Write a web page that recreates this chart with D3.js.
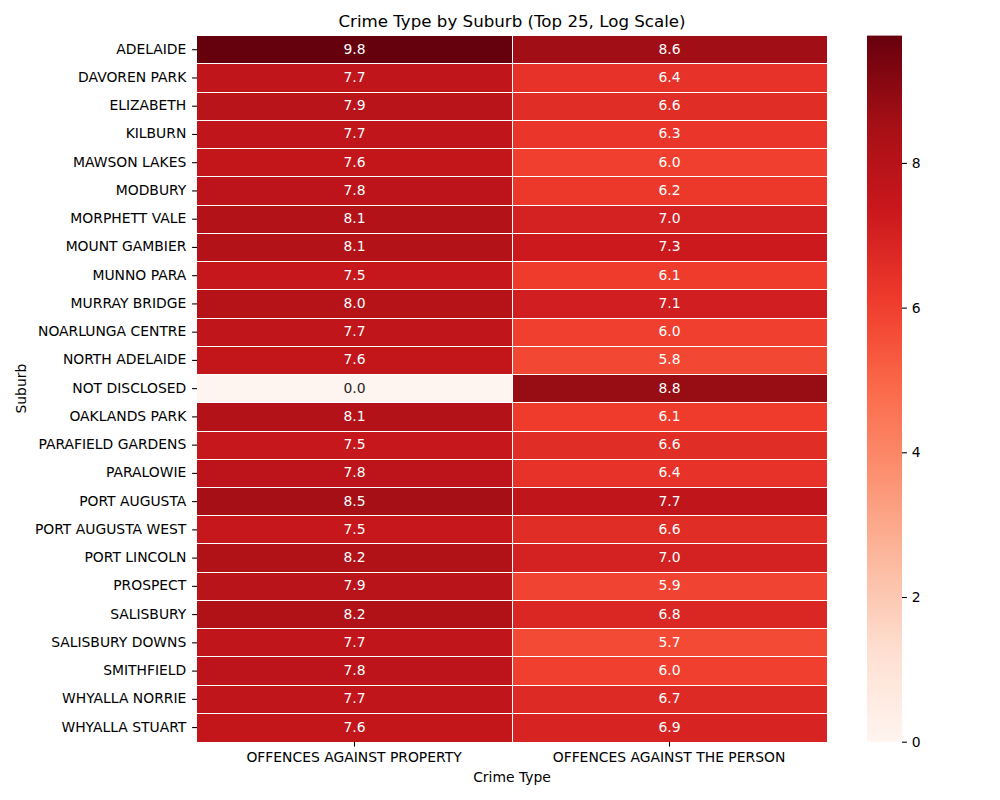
<!DOCTYPE html>
<html>
<head>
<meta charset="utf-8">
<script src="https://cdn.jsdelivr.net/npm/d3@7"></script>
<style>
  html, body { margin: 0; padding: 0; background: #fff; }
  text { font-family: "DejaVu Sans", sans-serif; fill: #000; }
</style>
</head>
<body>
<div id="graph"></div>
<script>
const suburbs = ["ADELAIDE", "DAVOREN PARK", "ELIZABETH", "KILBURN", "MAWSON LAKES", "MODBURY",
  "MORPHETT VALE", "MOUNT GAMBIER", "MUNNO PARA", "MURRAY BRIDGE", "NOARLUNGA CENTRE",
  "NORTH ADELAIDE", "NOT DISCLOSED", "OAKLANDS PARK", "PARAFIELD GARDENS", "PARALOWIE",
  "PORT AUGUSTA", "PORT AUGUSTA WEST", "PORT LINCOLN", "PROSPECT", "SALISBURY",
  "SALISBURY DOWNS", "SMITHFIELD", "WHYALLA NORRIE", "WHYALLA STUART"]
const crimeTypes = ["OFFENCES AGAINST PROPERTY", "OFFENCES AGAINST THE PERSON"]

// log scale values
const propertyValues = [9.8, 7.7, 7.9, 7.7, 7.6, 7.8, 8.1, 8.1, 7.5, 8.0, 7.7, 7.6, 0.0,
  8.1, 7.5, 7.8, 8.5, 7.5, 8.2, 7.9, 8.2, 7.7, 7.8, 7.7, 7.6]
const personValues = [8.6, 6.4, 6.6, 6.3, 6.0, 6.2, 7.0, 7.3, 6.1, 7.1, 6.0, 5.8, 8.8,
  6.1, 6.6, 6.4, 7.7, 6.6, 7.0, 5.9, 6.8, 5.7, 6.0, 6.7, 6.9]
const colorbarTicks = [0, 2, 4, 6, 8]
const maxValue = 9.76

const width = 1000, height = 800
const plot = { left: 197, right: 827, top: 35.6, bottom: 741.7 }
const bar = { left: 867, right: 902 }

const svg = d3.select("#graph").append("svg")
  .attr("width", width)
  .attr("height", height)
  .style("display", "block")

const x = d3.scaleBand().domain(crimeTypes).range([plot.left, plot.right])
const y = d3.scaleBand().domain(suburbs).range([plot.top, plot.bottom])

// same anchors as matplotlib's Reds
const reds = d3.schemeReds[9]
const colorScale = d3.scaleLinear()
  .domain(reds.map((c, i) => maxValue * i / 8))
  .range(reds)
  .interpolate(d3.interpolateRgb)

function textColor(v) {
  const c = d3.rgb(colorScale(v))
  const lin = [c.r, c.g, c.b].map(u => {
    u = u / 255
    return u <= 0.03928 ? u / 12.92 : Math.pow((u + 0.055) / 1.055, 2.4)
  })
  const lum = 0.2126 * lin[0] + 0.7152 * lin[1] + 0.0722 * lin[2]
  return lum > 0.408 ? "#262626" : "#fff"
}

let cells = []
suburbs.forEach((s, i) => {
  cells.push({ suburb: s, crime: crimeTypes[0], value: propertyValues[i] })
  cells.push({ suburb: s, crime: crimeTypes[1], value: personValues[i] })
})

svg.append("g")
  .selectAll("rect")
  .data(cells)
  .join("rect")
  .attr("x", d => x(d.crime))
  .attr("y", d => y(d.suburb))
  .attr("width", x.bandwidth())
  .attr("height", y.bandwidth())
  .attr("fill", d => colorScale(d.value))
  .attr("shape-rendering", "crispEdges")

// white separators only between cells, the outer edge stays clean
svg.append("g")
  .selectAll("line.row")
  .data(suburbs.slice(1))
  .join("line")
  .attr("class", "row")
  .attr("x1", plot.left)
  .attr("x2", plot.right)
  .attr("y1", d => y(d))
  .attr("y2", d => y(d))
  .attr("stroke", "#fff")
  .attr("shape-rendering", "crispEdges")

svg.append("g")
  .selectAll("line.col")
  .data(crimeTypes.slice(1))
  .join("line")
  .attr("class", "col")
  .attr("x1", d => x(d))
  .attr("x2", d => x(d))
  .attr("y1", plot.top)
  .attr("y2", plot.bottom)
  .attr("stroke", "#fff")
  .attr("shape-rendering", "crispEdges")

svg.append("g")
  .selectAll("text")
  .data(cells)
  .join("text")
  .attr("x", d => x(d.crime) + x.bandwidth() / 2)
  .attr("y", d => y(d.suburb) + y.bandwidth() / 2 - 1)
  .attr("dy", "0.36em")
  .attr("text-anchor", "middle")
  .style("font-size", "13.9px")
  .style("fill", d => textColor(d.value))
  .text(d => d.value.toFixed(1))

function styleAxis(g) {
  g.select(".domain").remove()
  g.selectAll(".tick line").attr("stroke", "#000").attr("stroke-width", 1.1)
  g.selectAll(".tick text").style("font-size", "13.9px").style("fill", "#000")
}

svg.append("g")
  .attr("transform", `translate(${plot.left},0)`)
  .call(d3.axisLeft(y).tickSize(4.9).tickPadding(5.8))
  .call(styleAxis)
  .call(g => g.selectAll(".tick text").attr("y", -0.5))

svg.append("g")
  .attr("transform", `translate(0,${plot.bottom})`)
  .call(d3.axisBottom(x).tickSize(4.9).tickPadding(5.6))
  .call(styleAxis)
  .call(g => g.selectAll(".tick text").attr("x", -0.5))

// colorbar
const barScale = d3.scaleLinear().domain([0, maxValue]).range([plot.bottom, plot.top])

const gradient = svg.append("defs").append("linearGradient")
  .attr("id", "reds-gradient")
  .attr("x1", 0).attr("x2", 0).attr("y1", 1).attr("y2", 0)
gradient.selectAll("stop")
  .data(reds)
  .join("stop")
  .attr("offset", (d, i) => i / 8)
  .attr("stop-color", d => d)

svg.append("rect")
  .attr("x", bar.left)
  .attr("y", plot.top)
  .attr("width", bar.right - bar.left)
  .attr("height", plot.bottom - plot.top)
  .attr("fill", "url(#reds-gradient)")

svg.append("g")
  .attr("transform", `translate(${bar.right},0)`)
  .call(d3.axisRight(barScale).tickValues(colorbarTicks).tickSize(4.9).tickPadding(4.9))
  .call(styleAxis)

// title and axis labels
svg.append("text")
  .attr("x", (plot.left + plot.right) / 2)
  .attr("y", 27)
  .attr("text-anchor", "middle")
  .style("font-size", "16.67px")
  .text("Crime Type by Suburb (Top 25, Log Scale)")

svg.append("text")
  .attr("x", (plot.left + plot.right) / 2)
  .attr("y", 782)
  .attr("text-anchor", "middle")
  .style("font-size", "13.9px")
  .text("Crime Type")

svg.append("text")
  .attr("transform", `translate(26,${(plot.top + plot.bottom) / 2}) rotate(-90)`)
  .attr("text-anchor", "middle")
  .style("font-size", "13.9px")
  .text("Suburb")
</script>
</body>
</html>
